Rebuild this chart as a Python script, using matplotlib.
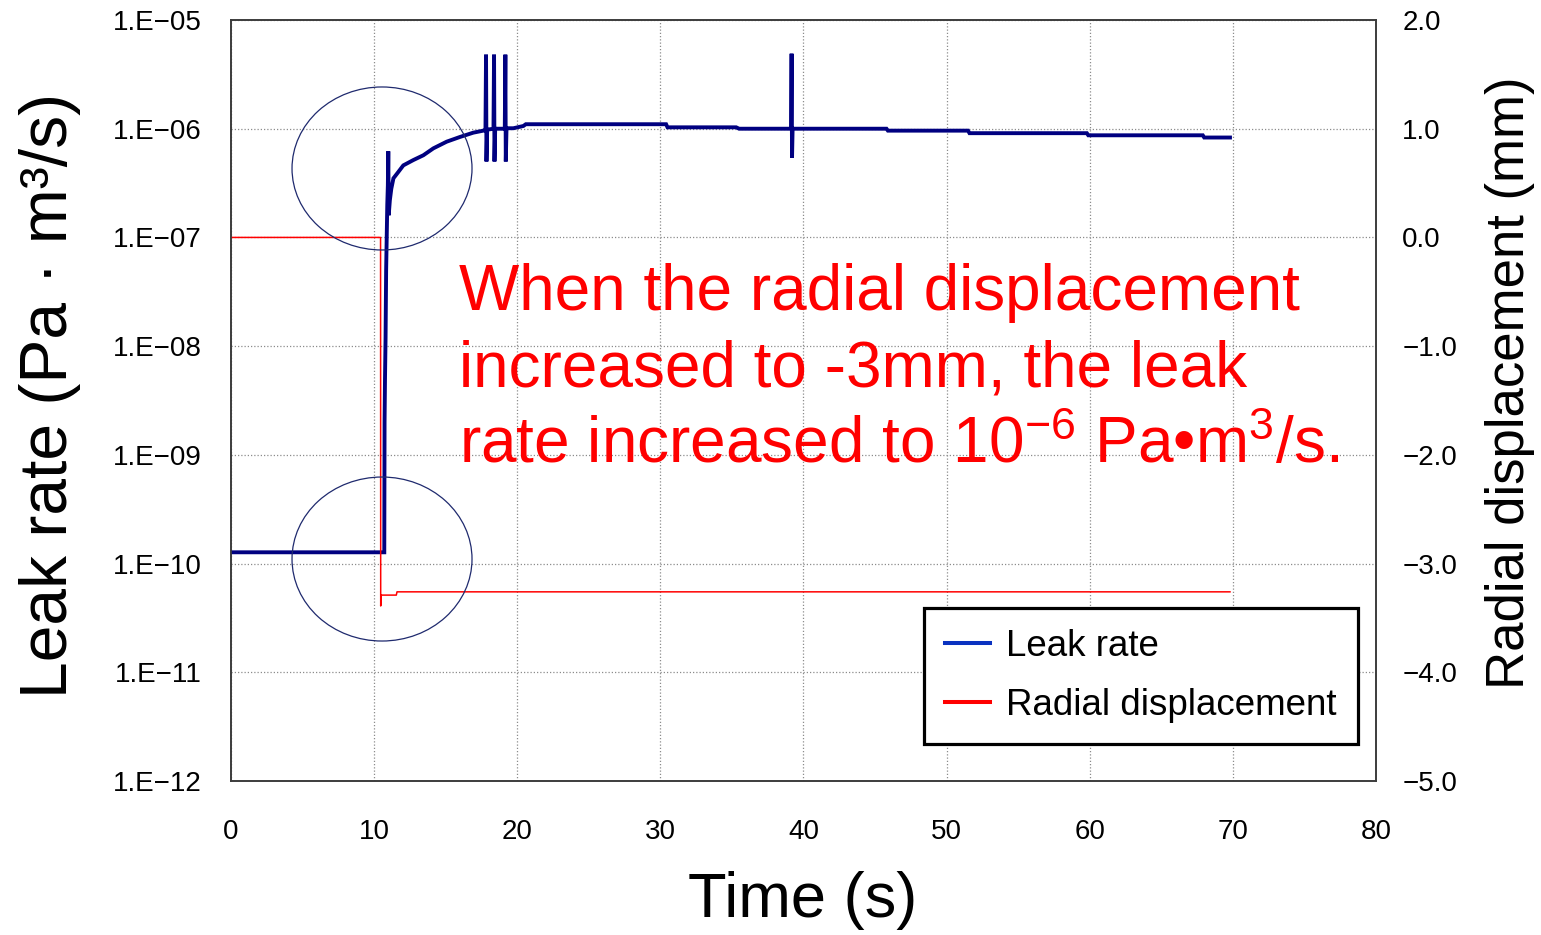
"""Leak rate and radial displacement vs time, twin axes."""

import matplotlib

matplotlib.use("Agg")

import matplotlib.pyplot as plt
from matplotlib.lines import Line2D
from matplotlib.patches import Ellipse
from matplotlib.ticker import FixedLocator, FixedFormatter, NullLocator

plt.rcParams["font.family"] = ["Liberation Sans", "DejaVu Sans", "Noto Sans CJK JP"]
plt.rcParams["mathtext.fontset"] = "custom"
plt.rcParams["mathtext.rm"] = "Liberation Sans"
plt.rcParams["mathtext.it"] = "Liberation Sans:italic"
plt.rcParams["mathtext.bf"] = "Liberation Sans:bold"

# leak rate (Pa m3/s)
leak_time = [
    0.0, 10.71, 10.73, 10.76, 10.80, 10.84, 10.88, 10.92, 10.96, 10.99,
    11.02, 11.1, 11.2, 11.35, 11.69, 12.04, 12.74, 13.44, 14.14, 15.07,
    16.0, 16.93, 17.63,
    17.78, 17.82, 17.85, 17.90, 18.34, 18.38, 18.41, 18.46,
    19.13, 19.17, 19.20, 19.25, 19.73, 20.43, 20.6, 30.4, 30.5, 35.3, 35.5,
    39.13, 39.17, 39.20, 39.24, 45.8, 45.9, 51.5, 51.6, 59.8, 59.9,
    67.9, 68.0, 69.8,
]
leak_rate = [
    1.27e-10, 1.27e-10, 2e-9, 5e-9, 1.2e-8, 5e-8, 1e-7, 2e-7, 3e-7, 6.2e-7,
    1.6e-7, 2.2e-7, 2.8e-7, 3.5e-7, 4.0e-7, 4.6e-7, 5.15e-7, 5.7e-7, 6.6e-7, 7.6e-7,
    8.4e-7, 9.2e-7, 9.6e-7,
    9.7e-7, 4.8e-6, 5.0e-7, 9.8e-7, 1.0e-6, 4.8e-6, 5.0e-7, 1.0e-6,
    1.0e-6, 4.8e-6, 5.0e-7, 1.01e-6, 1.01e-6, 1.06e-6, 1.10e-6, 1.10e-6, 1.03e-6, 1.03e-6, 1.0e-6,
    1.0e-6, 4.9e-6, 5.4e-7, 1.0e-6, 1.0e-6, 9.6e-7, 9.6e-7, 9.1e-7, 9.1e-7, 8.7e-7,
    8.7e-7, 8.3e-7, 8.3e-7,
]

# radial displacement (mm)
disp_time = [0.0, 10.45, 10.46, 10.5, 11.55, 11.6, 69.8]
disp_mm = [0.0, 0.0, -3.39, -3.29, -3.29, -3.26, -3.26]

x_ticks = [0, 10, 20, 30, 40, 50, 60, 70, 80]
left_ticks = [1e-12, 1e-11, 1e-10, 1e-9, 1e-8, 1e-7, 1e-6, 1e-5]
left_labels = ["1.E\u221212", "1.E\u221211", "1.E\u221210", "1.E\u221209",
               "1.E\u221208", "1.E\u221207", "1.E\u221206", "1.E\u221205"]
right_ticks = [-5, -4, -3, -2, -1, 0, 1, 2]
right_labels = ["\u22125.0", "\u22124.0", "\u22123.0", "\u22122.0",
                "\u22121.0", "0.0", "1.0", "2.0"]

note_lines = [
    "When the radial displacement",
    "increased to -3mm, the leak",
    r"rate increased to 10$^{\mathregular{-6}}$ Pa" "\u2022" r"m$^{\mathregular{3}}$/s.",
]

fig = plt.figure(figsize=(15.41, 9.35), dpi=100)
ax = fig.add_axes([0.1499, 0.1647, 0.7430, 0.8139])
ax2 = ax.twinx()

ax.plot(leak_time, leak_rate, color="#000080", lw=2.8, solid_joinstyle="miter", zorder=3)
ax2.plot(disp_time, disp_mm, color="#ff0000", lw=1.1)

ax.set_yscale("log")
ax.set_xlim(0, 80)
ax.set_ylim(1e-12, 1e-5)
ax2.set_ylim(-5, 2)

ax.xaxis.set_major_locator(FixedLocator(x_ticks))
ax.yaxis.set_major_locator(FixedLocator(left_ticks))
ax.yaxis.set_major_formatter(FixedFormatter(left_labels))
ax.yaxis.set_minor_locator(NullLocator())
ax2.yaxis.set_major_locator(FixedLocator(right_ticks))
ax2.yaxis.set_major_formatter(FixedFormatter(right_labels))

ax.grid(True, which="major", color="#8c8c8c", lw=0.9, ls=(0, (1, 1.6)))
ax.tick_params(axis="x", length=0, labelsize=20, pad=27)
ax.tick_params(axis="y", length=0, labelsize=20, pad=21)
ax2.tick_params(axis="y", length=0, labelsize=20, pad=19)
for a in (ax, ax2):
    for sp in a.spines.values():
        sp.set_color("#3c3c3c")
        sp.set_linewidth(1.2)

# circles highlighting the jump
for cy, h in [(0.8049, 0.2142), (0.2917, 0.2155)]:
    ax2.add_patch(Ellipse((0.1319, cy), 0.1572, h, transform=ax.transAxes,
                          fill=False, ec="#1f2a6e", lw=0.9, zorder=5))

handles = [Line2D([], [], color="#0a32c0", lw=2.9),
           Line2D([], [], color="#ff0000", lw=2.9)]
leg = ax2.legend(handles, ["Leak rate", "Radial displacement"],
                 loc="lower right", bbox_to_anchor=(0.9843, 0.0486),
                 fontsize=26.5, frameon=True, fancybox=False, framealpha=1,
                 edgecolor="black", handlelength=1.2, handletextpad=0.45,
                 borderpad=0.58, labelspacing=0.64, borderaxespad=0)
leg.get_frame().set_linewidth(2.3)

for y_px, line in zip([310, 387, 463], note_lines):
    fig.text(459 / 1541, 1 - y_px / 935, line, color="#ff0000",
             fontsize=46, va="baseline", ha="left")

fig.text(803 / 1541, 1 - 901 / 935, "Time (s)", fontsize=45.5, ha="center", va="center")
fig.text(50 / 1541, 1 - 395 / 935, "Leak rate (Pa \u00b7 m\u00b3/s)", fontsize=47.5,
         rotation=90, ha="center", va="center")
fig.text(1510 / 1541, 1 - 383 / 935, "Radial displacement (mm)", fontsize=38,
         rotation=90, ha="center", va="center")

fig.savefig("out.png", dpi=100)
plt.close(fig)
